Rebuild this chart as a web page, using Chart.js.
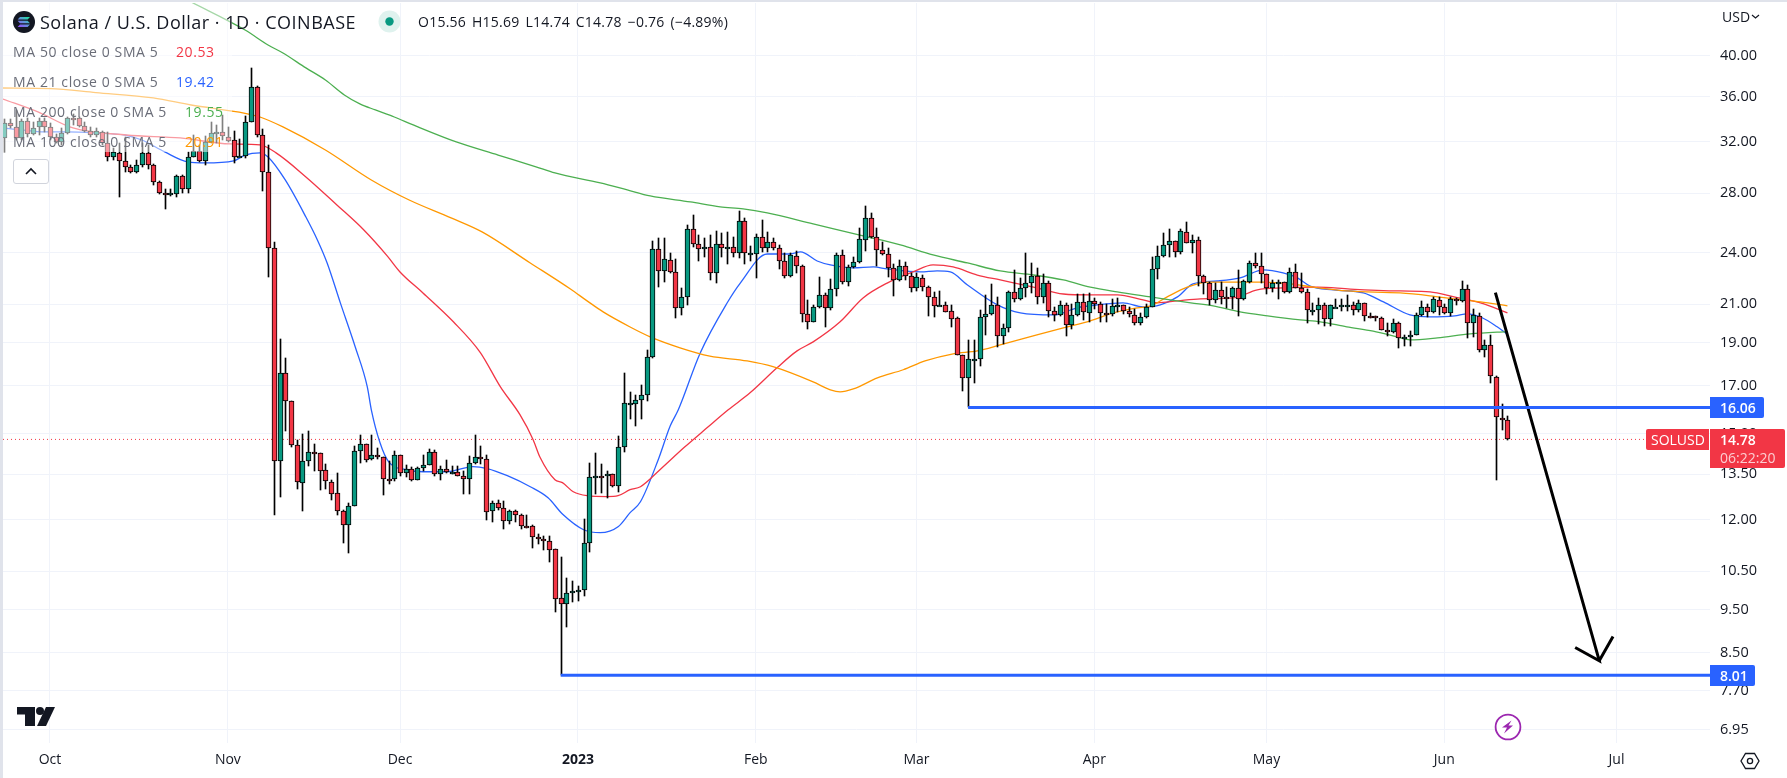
<!DOCTYPE html>
<html><head><meta charset="utf-8">
<script src="https://cdn.jsdelivr.net/npm/chart.js@4"></script>
<style>
html,body{margin:0;padding:0;background:#fff;width:1787px;height:778px;overflow:hidden}
#wrap{position:relative;width:1787px;height:778px;font-family:"Open Sans",Roboto,sans-serif;color:#131722}
canvas{position:absolute;left:0;top:0}
.t{position:absolute;white-space:nowrap;line-height:20px;font-size:14px}
.m{letter-spacing:.6px}
.box{position:absolute}
</style></head><body><div id="wrap">
<canvas id="c" width="1787" height="778"></canvas>
<div class="box" style="left:3px;top:3px;width:229px;height:149px;background:rgba(255,255,255,.5)"></div>
<div class="box" style="left:0;top:0;width:1787px;height:2px;background:#e0e3eb"></div>
<div class="box" style="left:0;top:0;width:3px;height:778px;background:#e0e3eb"></div>

<svg class="box" style="left:13px;top:11px" width="22" height="22" viewBox="0 0 22 22">
<defs><linearGradient id="sg" x1="0" y1="1" x2="1" y2="0"><stop offset="0" stop-color="#9945ff"/><stop offset=".55" stop-color="#5a9ad8"/><stop offset="1" stop-color="#14f195"/></linearGradient></defs>
<circle cx="11" cy="11" r="11" fill="#131722"/>
<path d="M7 6h10l-2.4 2.4H4.6zM4.6 9.8h10L17 12.2H7zM7 13.6h10L14.6 16H4.6z" fill="url(#sg)"/></svg>
<div class="t" id="title" style="left:40px;top:12px;font-size:18px;letter-spacing:.5px">Solana / U.S. Dollar · 1D · COINBASE</div>
<svg class="box" style="left:378px;top:10px" width="23" height="23"><circle cx="11.5" cy="11.5" r="11" fill="#dff2ee"/><circle cx="11.5" cy="11.5" r="4.2" fill="#089981"/></svg>
<div class="t" id="ohlc" style="left:418px;top:12px;word-spacing:2px;letter-spacing:.25px">O15.56 H15.69 L14.74 C14.78 −0.76 (−4.89%)</div>

<div class="t m" style="left:13px;top:42px;color:#6a6d78">MA 50 close 0 SMA 5</div><div class="t m" style="left:176px;top:42px;color:#f23645">20.53</div>
<div class="t m" style="left:13px;top:72px;color:#6a6d78">MA 21 close 0 SMA 5</div><div class="t m" style="left:176px;top:72px;color:#2962ff">19.42</div>
<div class="t m" style="left:13px;top:102px;color:#6a6d78">MA 200 close 0 SMA 5</div><div class="t m" style="left:185px;top:102px;color:#4caf50">19.55</div>
<div class="t m" style="left:13px;top:132px;color:#6a6d78">MA 100 close 0 SMA 5</div><div class="t m" style="left:185px;top:132px;color:#ff9800">20.91</div>
<div class="box" style="left:13px;top:159px;width:34px;height:23px;border:1px solid #d1d4dc;border-radius:3px;background:#fff"></div>
<svg class="box" style="left:24px;top:167px" width="14" height="9"><path d="M2 7l5-5 5 5" fill="none" stroke="#131722" stroke-width="1.6"/></svg>

<div class="t" style="left:1722px;top:7px">USD</div>
<svg class="box" style="left:1751px;top:14px" width="9" height="6"><path d="M1 1l3.5 3L8 1" fill="none" stroke="#131722" stroke-width="1.2"/></svg>

<div class="box" style="left:1710px;top:397px;width:54px;height:21px;background:#2962ff;border-radius:0 2px 2px 0"></div>
<div class="t" style="left:1720px;top:397px;color:#fff;font-weight:600;line-height:21px">16.06</div>
<div class="box" style="left:1710px;top:665px;width:45px;height:21px;background:#2962ff;border-radius:0 2px 2px 0"></div>
<div class="t" style="left:1720px;top:665px;color:#fff;font-weight:600;line-height:21px">8.01</div>
<div class="box" style="left:1646px;top:429px;width:63px;height:21px;background:#f23645;border-radius:2px 0 0 2px"></div>
<div class="t" style="left:1651px;top:429px;color:#fff;line-height:21px">SOLUSD</div>
<div class="box" style="left:1710px;top:429px;width:75px;height:39px;background:#f23645;border-radius:0 2px 2px 0"></div>
<div class="t" style="left:1720px;top:430px;color:#fff;line-height:20px;font-weight:600">14.78</div>
<div class="t" style="left:1720px;top:448px;color:rgba(255,255,255,.75);line-height:20px">06:22:20</div>

<svg class="box" style="left:17px;top:707px" width="38" height="19" viewBox="0 0 38 19"><path d="M0 0h18v19H8V7.5H0z" fill="#131722"/><circle cx="23" cy="4" r="4" fill="#131722"/><path d="M29 0h9l-9 19h-9z" fill="#131722"/></svg>
<svg class="box" style="left:1494px;top:713px" width="28" height="28" viewBox="0 0 28 28"><circle cx="14" cy="14" r="12.4" fill="#fff" stroke="#9c27b0" stroke-width="1.8"/><path d="M17.5 7.5l-3 5h4.5l-9 8 3-6H8z" fill="#9c27b0"/></svg>
<svg class="box" style="left:1740px;top:752px" width="20" height="18" viewBox="0 0 20 18"><path d="M5.5 1.5h9L19 9l-4.5 7.500h-9L1 9z" fill="none" stroke="#131722" stroke-width="1.3"/><circle cx="10" cy="9" r="2.600" fill="none" stroke="#131722" stroke-width="1.3"/></svg>
</div>
<script>
// Daily candles, index 0 = 23 Sep 2022, last index 262 = 12 Jun 2023
const opens=[32.35,33.59,33.3,32.3,33.82,32.65,33.26,33.82,33.26,32.38,
32.02,32.78,34.05,34.03,33.36,32.9,32.55,32.87,31.88,30.75,
31.12,30.46,29.96,29.58,30.11,31.12,30.11,28.8,28.05,28.0,
27.95,29.27,28.3,30.8,31.23,30.48,32.02,32.82,32.87,32.44,
32.14,30.8,30.82,33.68,36.87,32.55,29.58,24.28,13.98,17.58,
16.33,14.55,13.2,13.97,14.3,14.27,13.65,13.22,12.85,12.28,
11.84,12.44,14.33,14.6,14.03,14.19,14.12,13.35,13.33,14.19,
13.55,13.7,13.3,13.72,13.83,14.3,13.5,13.68,13.59,13.58,
13.44,13.34,13.9,14.12,14.05,12.27,12.53,12.37,11.95,12.28,
12.15,11.8,11.8,11.48,11.42,11.36,11.12,9.79,9.65,9.92,
9.98,10.0,11.3,13.41,13.43,13.43,13.51,13.08,14.48,16.22,
16.22,16.37,16.58,18.3,24.22,22.87,23.53,22.81,20.78,21.38,
25.5,24.53,24.21,24.34,22.75,24.53,24.36,24.38,23.97,26.04,
23.97,23.95,24.98,24.28,24.66,24.28,23.47,22.61,23.8,23.17,
20.46,20.07,20.83,21.49,20.78,21.83,23.84,22.23,23.11,23.41,
24.81,26.25,24.98,24.15,23.91,23.05,22.34,23.21,22.61,21.88,
22.46,21.97,21.41,20.97,20.94,20.62,20.25,18.4,17.32,18.2,
18.2,20.33,20.46,20.94,19.34,19.72,21.65,21.27,21.9,22.16,
22.6,21.41,22.16,20.64,20.4,20.94,19.88,20.43,21.1,20.53,
21.16,21.02,20.51,20.48,20.94,20.95,20.62,20.44,20.02,20.3,
20.87,23.0,23.78,24.47,24.72,24.02,25.3,24.6,24.78,22.6,
22.17,21.2,21.77,21.41,21.38,21.92,21.27,22.26,23.35,23.17,
22.69,21.92,22.2,22.23,21.7,22.81,21.92,21.66,20.68,20.68,
20.94,20.2,20.85,20.85,20.94,20.94,20.68,21.05,20.34,20.35,
20.25,19.65,19.53,20.02,19.25,19.26,19.37,20.4,20.83,20.57,
21.23,20.83,20.51,21.27,21.15,21.83,19.99,20.37,18.63,18.87,
17.37,15.61,15.56];
const highs=[33.96,33.96,34.77,33.96,34.03,33.73,34.03,34.03,33.59,32.67,
33.15,34.17,34.4,34.17,33.73,33.3,33.15,32.95,32.8,31.47,
31.88,32.44,30.14,30.54,31.88,31.75,30.22,28.94,28.3,28.33,
29.37,29.37,31.2,32.58,31.75,32.5,33.73,33.44,34.32,33.3,
32.9,32.25,34.24,38.78,37.0,33.05,31.75,24.65,19.19,18.27,
16.35,14.74,14.99,15.1,14.6,14.27,13.88,13.29,13.55,12.32,
12.53,14.52,14.96,14.6,14.96,14.47,14.12,13.96,14.35,14.19,
13.84,13.77,13.75,14.2,14.41,14.39,13.78,14.02,13.78,13.78,
13.6,14.16,14.96,14.54,14.2,12.58,12.64,12.6,12.3,12.32,
12.17,12.13,11.82,11.57,11.5,11.5,11.13,10.88,10.3,10.22,
10.11,12.02,13.89,14.26,13.87,13.63,13.52,14.92,17.56,16.7,
16.59,17.03,18.65,24.75,24.96,24.96,24.0,23.59,21.88,25.79,
26.47,25.13,24.92,25.13,25.39,25.25,25.35,25.02,26.77,26.29,
24.43,25.18,26.13,25.31,24.92,24.49,23.98,24.0,24.13,23.25,
21.23,20.96,22.52,21.6,22.42,23.97,24.17,23.25,23.75,25.57,
27.09,26.58,25.59,24.7,24.3,23.31,23.55,23.45,22.78,22.78,
22.65,22.01,21.69,21.74,21.13,20.96,20.33,18.4,19.14,19.14,
20.69,21.51,22.1,21.4,19.96,21.74,22.95,22.46,24.0,23.35,
23.08,22.71,22.3,20.85,21.17,21.05,21.0,21.57,21.57,21.6,
21.33,21.13,21.03,21.27,21.33,20.96,20.85,20.73,20.5,21.0,
23.72,24.43,25.25,25.5,24.77,25.5,25.99,25.13,24.98,22.65,
22.26,22.17,22.26,21.97,21.97,22.95,22.36,23.51,23.97,23.97,
22.71,22.36,22.36,22.26,23.05,23.31,22.75,21.83,21.05,21.33,
21.05,20.96,21.27,21.27,21.51,21.13,21.2,21.05,20.54,20.37,
20.3,20.02,20.2,20.06,19.39,19.59,20.51,21.19,21.0,21.41,
21.37,21.0,21.41,21.33,22.3,22.07,20.72,20.51,19.14,19.39,
17.43,16.21,15.69];
const lows=[31.2,33.15,32.16,32.2,32.44,32.58,32.58,32.8,32.16,31.88,
31.75,32.7,33.44,33.26,32.8,32.44,32.44,31.75,30.46,30.54,
27.76,29.62,29.5,29.5,29.96,29.8,28.62,27.95,26.87,27.8,
27.76,28.0,28.05,30.8,30.4,30.17,31.93,31.88,32.16,32.02,
30.3,30.78,30.7,33.68,32.4,28.18,22.55,12.13,12.72,15.12,
14.49,13.01,12.27,13.8,13.63,12.95,13.0,12.62,12.14,11.3,
11.0,12.44,13.9,13.92,14.02,14.06,12.8,13.17,13.27,13.43,
13.41,13.25,13.29,13.6,13.83,13.45,13.29,13.54,13.52,13.43,
12.83,12.81,13.87,13.87,12.0,11.94,12.3,11.7,11.87,11.92,
11.7,11.73,11.14,11.26,11.08,10.75,9.44,8.01,9.07,9.69,
9.71,9.83,11.03,12.83,12.87,12.7,13.05,12.89,14.3,15.59,
15.32,15.6,16.32,18.27,21.97,22.27,22.75,20.27,20.44,20.96,
24.34,23.51,23.72,22.36,22.2,23.76,23.31,23.76,23.69,23.31,
23.5,22.5,24.07,24.07,24.17,23.03,22.48,22.55,22.79,20.04,
19.71,20.06,20.78,19.8,20.69,21.45,22.12,22.0,23.05,23.39,
24.13,24.92,23.19,23.86,22.52,21.46,22.28,22.36,21.7,21.75,
21.75,20.37,20.33,20.88,20.55,19.77,18.38,16.77,16.06,17.12,
17.89,19.39,20.42,18.78,18.95,19.55,21.14,21.23,21.4,21.6,
21.0,21.05,20.33,20.12,20.36,19.35,19.67,20.37,20.16,20.07,
20.76,20.05,20.05,20.38,20.58,20.48,20.33,19.9,19.9,20.25,
20.87,22.4,23.72,23.76,23.76,23.93,24.6,24.0,22.0,21.57,
20.96,21.06,21.0,20.8,20.76,20.38,21.2,22.2,23.05,22.17,
21.57,21.7,21.27,21.63,21.63,21.88,21.63,20.02,20.42,19.93,
19.82,19.82,20.84,20.65,20.64,20.42,20.6,20.12,20.25,20.12,
19.62,19.32,19.5,18.76,18.82,18.84,19.36,20.37,20.3,20.52,
20.39,20.46,20.37,20.96,21.12,19.23,19.28,18.56,18.33,17.13,
13.29,15.15,14.74];
const closes=[33.59,33.36,32.35,33.82,32.67,33.15,33.82,33.26,32.38,31.97,
32.78,34.05,33.97,33.36,32.9,32.55,32.9,31.88,30.75,31.15,
30.46,29.96,29.58,30.11,31.12,30.11,28.8,28.0,28.0,28.05,
29.27,28.3,30.8,31.23,30.48,32.02,32.78,32.87,32.5,32.1,
30.8,30.82,33.68,36.87,32.55,29.58,24.3,13.98,17.58,16.33,
14.55,13.23,13.97,14.3,14.28,13.63,13.27,12.82,12.27,11.84,
12.44,14.33,14.6,14.01,14.19,14.12,13.33,13.34,14.19,13.55,
13.7,13.3,13.72,13.83,14.3,13.5,13.68,13.57,13.59,13.44,
13.34,13.9,14.12,14.04,12.24,12.53,12.37,11.95,12.28,12.15,
11.8,11.79,11.48,11.42,11.36,11.09,9.77,9.65,9.92,9.97,
10.0,11.3,13.41,13.43,13.42,13.51,13.08,14.48,16.24,16.25,
16.37,16.58,18.3,24.22,22.87,23.6,22.81,20.78,21.38,25.5,
24.53,24.21,24.34,22.75,24.53,24.32,24.38,23.97,26.04,23.97,
23.98,24.98,24.28,24.66,24.32,23.47,22.61,23.84,23.2,20.46,
20.07,20.83,21.49,20.78,21.83,23.84,22.23,23.11,23.41,24.85,
26.25,24.98,24.15,23.91,23.05,22.34,23.21,22.61,21.88,22.52,
21.97,21.38,20.92,20.97,20.6,20.23,18.4,17.32,18.2,18.21,
20.33,20.46,20.94,19.34,19.75,21.65,21.27,21.9,22.16,22.6,
21.41,22.16,20.64,20.4,20.94,19.88,20.43,21.1,20.57,21.16,
21.02,20.53,20.5,20.92,20.95,20.62,20.46,20.02,20.3,20.87,
23.0,23.78,24.47,24.72,24.02,25.37,24.6,24.78,22.6,22.17,
21.2,21.77,21.41,21.38,21.92,21.27,22.28,23.35,23.17,22.69,
21.92,22.2,22.23,21.7,22.81,21.92,21.66,20.68,20.69,20.94,
20.2,20.94,20.87,20.94,20.95,20.68,21.05,20.35,20.33,20.26,
19.65,19.55,20.02,19.25,19.26,19.37,20.4,20.83,20.57,21.27,
20.83,20.51,21.27,21.18,21.83,19.99,20.4,18.63,18.87,17.42,
15.65,15.55,14.78];

// Moving averages read at sampled candle positions
const ma21Idx=[-0.2,3,7,11,16,21,24,28,32,35,40,42,44.6,46,49,52.6,54.6,56.3,58.6,61.2,63.3,64,65.5,67,70.2,73,77.2,81.7,84.2,87.7,91.7,94.8,97.4,101,103.9,107,109.1,110.9,114,116.1,117.5,121.3,126,128.3,133,137,138.8,141.7,144,148,151.5,153.9,159.7,162.6,164.9,167.9,173.1,177.1,182.9,187,190.5,195,198.5,201.5,204.5,207.2,211.4,215.4,219.5,222.9,225.4,227.6,231.7,236.9,240.4,245,248.5,252.8,255,257.6,260.2,262];
const ma21Val=[33.18,33.01,32.84,32.84,32.75,32.58,32.16,31.18,30.38,30.3,30.46,30.93,31.1,30.77,28.99,26.33,24.81,23.37,21.07,18.79,16.94,15.96,14.66,13.95,13.66,13.59,13.59,13.77,13.7,13.45,13.07,12.7,12.16,11.69,11.6,11.78,12.22,12.57,14.02,15.31,15.96,18.49,21.06,22.18,23.92,23.92,24.05,23.49,23.25,23.07,23.13,23.01,22.83,22.89,22.83,22.07,20.96,20.53,20.42,20.8,20.96,21.07,20.85,20.96,21.4,22.13,22.3,22.48,22.95,22.77,22.48,22.01,21.79,21.62,21.12,20.42,20.32,20.37,20.48,20.27,19.8,19.42];
const ma50Idx=[-0.2,5.9,12,21.3,30.7,39.4,44.6,47.4,52.6,58,62.7,66.8,69,73,78.3,83,86.5,89.9,92.2,93.4,96,97.3,99.2,101.6,105.1,107,109.1,110.9,114.3,118.5,122.5,126.2,130,134.7,138.2,141,145.7,149.7,153.9,158.4,161.9,165.4,169.6,173.6,179.4,184.6,189.3,194,198.5,201,204.5,208.5,214.2,218.4,222.9,228.9,234.6,243.3,248.5,252.7,257.3,262];
const ma50Val=[35.77,34.59,33.18,32.58,32.33,31.83,31.75,31.1,29.22,27.17,25.46,23.79,22.83,21.62,20.06,18.52,16.94,15.76,14.77,14.11,13.31,13.21,12.9,12.77,12.74,12.77,12.97,13.07,13.66,14.47,15.23,15.96,16.68,17.8,18.6,19.04,20.06,21.34,22.18,22.83,23.25,23.13,22.65,22.36,21.95,21.56,21.51,21.51,21.23,21.07,21.18,21.29,21.34,21.79,21.9,21.95,21.84,21.73,21.68,21.4,21.07,20.53];
const ma100Idx=[-0.2,8,16,26,32.6,42,44.6,48.6,56,64,70.6,77.9,83.3,91.7,98.7,101.6,104.4,109.1,112.6,117.8,123,129.5,134,141,144,145.7,148,152.2,156.7,160.5,165.4,169.6,173.6,180,184.6,189.3,193.3,197.5,199.8,202.7,206.2,209.7,214.2,219.5,224.2,228.2,234,243.3,248.5,252.7,257.3,262];
const ma100Val=[36.81,36.75,36.37,35.87,35.22,34.47,34.14,33.27,31.34,28.99,27.52,26.27,25.33,23.37,21.84,21.18,20.58,19.79,19.29,18.75,18.35,18.12,17.85,17.16,16.81,16.72,16.85,17.34,17.71,18.12,18.46,18.6,18.89,19.39,19.75,20.11,20.53,20.8,20.9,21.4,21.95,22.24,22.24,22.24,22.13,21.95,21.73,21.62,21.46,21.29,21.12,20.91];
const ma200Idx=[32.6,42,46,48.6,52.6,56,59.3,62,64.7,68,71.3,78.8,86.1,92.7,96,103.9,108.6,112.6,119.6,124.8,128.8,133,141,149.7,156.2,161.9,167.9,173.6,179.4,184.6,189.3,194,199.8,206.8,210.7,215.4,220.2,225.9,229.4,234,238.6,242.8,245,249.8,255.5,260.2,262];
const ma200Val=[46.02,42.79,41.16,40.31,38.78,37.58,36.15,35.32,34.77,34.14,33.44,32.0,30.93,30.0,29.52,28.77,28.25,27.81,27.38,27.03,26.89,26.61,25.86,25.07,24.49,23.86,23.37,22.89,22.65,22.36,21.95,21.68,21.4,21.07,20.9,20.58,20.37,20.16,20.06,19.8,19.58,19.29,19.14,19.24,19.44,19.53,19.55];

// Drawings
const levelHighPrice=16.06, levelHighStart=168;
const levelLowPrice=8.01, levelLowStart=97;
const lastPrice=14.78;
const arrowIdx=[259.9,278,273.8,278,280.4];
const arrowVal=[21.64,8.32,8.61,8.32,8.86];

// Axes
const yTicks=[40,36,32,28,24,21,19,17,15,13.5,12,10.5,9.5,8.5,7.7,6.95];
const yMin=6.719, yMax=45.9;
const xMin=-0.19, xMax=297.3;
const monthPos=[8,39,69,100,131,159,190,220,251,281];
const monthNames=['Oct','Nov','Dec','2023','Feb','Mar','Apr','May','Jun','Jul'];

const GREEN='#089981', RED='#f23645', BLUE='#2962ff';
const FONT='"Open Sans",Roboto,sans-serif';
const pts=(xs,ys)=>xs.map((x,i)=>({x,y:ys[i]}));
const lineDs=(data,color,width,extra)=>Object.assign({type:'line',data,borderColor:color,borderWidth:width,pointRadius:0,tension:0,fill:false,order:3},extra||{});
const maDs=(data,color)=>lineDs(data,color,1.3,{cubicInterpolationMode:'monotone'});

const frame={id:'frame',afterLayout(ch){
  const y=ch.scales.y, a=ch.chartArea;
  y.top=3; y.bottom=743; y.height=740;
  a.top=3; a.bottom=743; a.height=740;
  y.min=yMin; y.max=yMax; y.start=yMin; y.end=yMax;
  y.configure();
}};
const snap={id:'snap',beforeDatasetsDraw(ch){
  ch.data.datasets.forEach((d,di)=>{
    if(d.type!=='bar')return;
    ch.getDatasetMeta(di).data.forEach(el=>{
      el.x=Math.round(el.x)+0.5;
      let a=Math.round(Math.min(el.y,el.base)),b=Math.round(Math.max(el.y,el.base));
      if(d.isBody&&b-a<2)b=a+2;
      el.y=a;el.base=b;
    });
  });
}};

new Chart(document.getElementById('c'),{
  type:'line',
  data:{datasets:[
    {type:'bar',isBody:true,grouped:false,order:1,barThickness:5,borderWidth:1,borderColor:'#000',borderSkipped:false,
     data:opens.map((o,i)=>({x:i,y:[o,closes[i]]})),
     backgroundColor:opens.map((o,i)=>closes[i]>=o?GREEN:RED)},
    {type:'bar',isBody:false,grouped:false,order:2,barThickness:1,borderWidth:0,backgroundColor:'#000',
     data:highs.map((h,i)=>({x:i,y:[lows[i],h]}))},
    maDs(pts(ma200Idx,ma200Val),'#4caf50'),
    maDs(pts(ma100Idx,ma100Val),'#ff9800'),
    maDs(pts(ma50Idx,ma50Val),'#f23645'),
    maDs(pts(ma21Idx,ma21Val),BLUE),
    lineDs([{x:xMin,y:lastPrice},{x:xMax,y:lastPrice}],RED,1,{borderDash:[1,3],order:4}),
    lineDs([{x:levelHighStart,y:levelHighPrice},{x:xMax,y:levelHighPrice}],BLUE,3,{order:0}),
    lineDs([{x:levelLowStart,y:levelLowPrice},{x:xMax,y:levelLowPrice}],BLUE,3,{order:0}),
    lineDs(pts(arrowIdx,arrowVal),'#000',3,{order:0,borderJoinStyle:'miter'})
  ]},
  plugins:[frame,snap],
  options:{
    responsive:false,animation:false,events:[],
    layout:{autoPadding:false,padding:{left:3,top:3,right:0,bottom:0}},
    plugins:{legend:{display:false},tooltip:{enabled:false}},
    scales:{
      x:{type:'linear',min:xMin,max:xMax,offset:false,
        grid:{color:'#f0f3fa',offset:false,drawTicks:false},border:{display:false},
        afterFit(s){s.height=35},
        afterBuildTicks(s){s.ticks=monthPos.map(v=>({value:v}))},
        ticks:{autoSkip:false,maxRotation:0,padding:9,color:'#131722',
          font:c=>({family:FONT,size:14,weight:c.index===3?'bold':'normal'}),
          callback:(v,i)=>monthNames[i]}},
      y:{type:'logarithmic',position:'right',min:yMin,max:yMax,bounds:'data',
        grid:{color:'#f0f3fa',drawTicks:false},border:{display:false},
        afterFit(s){s.width=77},
        afterBuildTicks(s){s.ticks=yTicks.map(v=>({value:v}))},
        ticks:{autoSkip:false,padding:10,color:'#131722',font:{family:FONT,size:14.5},
          callback:v=>Number(v).toFixed(2)}}
    }
  }
});
</script></body></html>
